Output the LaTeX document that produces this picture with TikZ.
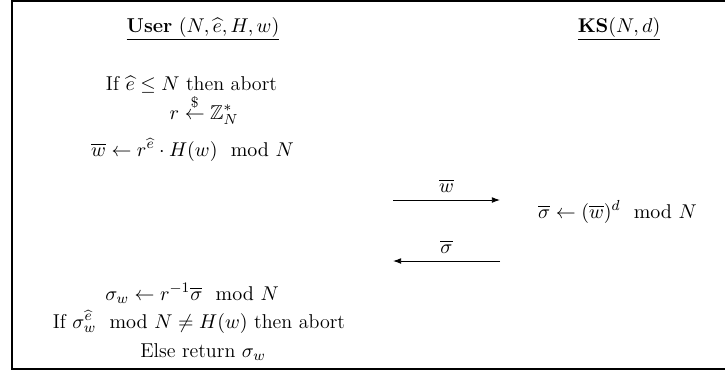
\documentclass[tikz,border=0pt]{standalone}
\usepackage{amsmath, amssymb}
\usetikzlibrary{arrows.meta}

\begin{document}
\begin{tikzpicture}[x=0.5495pt, y=-0.5495pt,
  every node/.style={anchor=base, inner sep=0pt, font=\fontsize{11pt}{13pt}\selectfont},
  msg/.style={-{Latex[length=4.5pt, width=3.2pt]}, line width=0.5pt}]

\useasboundingbox (0,0) rectangle (725,370);
\draw[line width=0.6pt] (726,1) -- (12,1) -- (12,369) -- (726,369);

\node (user) at (203,32) {\underline{\textbf{User} $(N,\widehat{e},H,w)$}};
\node (ks) at (619,32) {\underline{$\mathbf{KS}(N,d)$}};

\node (chk1) at (191.5,90) {If $\widehat{e}\le N$ then abort};
\node (rnd) at (204,119) {$r \overset{\$}{\leftarrow} \mathbb{Z}_N^*$};
\node (blind) at (192.5,156) {$\overline{w} \leftarrow r^{\widehat{e}}\cdot H(w) \mod N$};

\node (sign) at (617.5,218) {$\overline{\sigma} \leftarrow (\overline{w})^d \mod N$};

\node (unbl) at (192,300) {$\sigma_w \leftarrow r^{-1}\overline{\sigma} \mod N$};
\node (chk2) at (199,328) {If $\sigma_w^{\widehat{e}} \mod N \neq H(w)$ then abort};
\node (ret) at (203,357) {Else return $\sigma_w$};

\coordinate (w1) at (393,200);
\coordinate (w2) at (500,200);
\coordinate (s1) at (500,261);
\coordinate (s2) at (393,261);

\draw[msg] (w1) -- node[above=4pt, anchor=south]{$\overline{w}$} (w2);
\draw[msg] (s1) -- node[above=4pt, anchor=south]{$\overline{\sigma}$} (s2);

\end{tikzpicture}
\end{document}
